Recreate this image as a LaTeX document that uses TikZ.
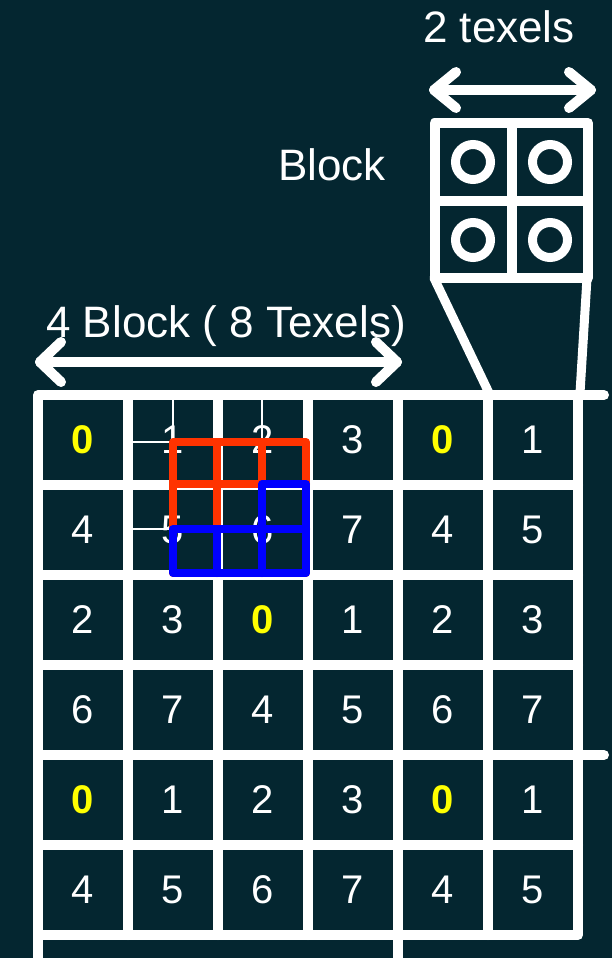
\documentclass[tikz,border=0pt]{standalone}
\usepackage{fontspec}
\setmainfont{Liberation Sans}
\definecolor{bg}{RGB}{4,38,48}
\definecolor{tred}{RGB}{255,51,0}
\definecolor{tblue}{RGB}{0,0,255}
\definecolor{tyellow}{RGB}{255,255,0}
\begin{document}
\begin{tikzpicture}[x=1pt,y=-1pt,
  wline/.style={draw=white,line width=10pt,line cap=round,line join=round},
  tline/.style={draw=white,line width=1.6pt},
  redline/.style={draw=tred,line width=8pt,line cap=round,line join=round},
  blueline/.style={draw=tblue,line width=8pt,line cap=round,line join=round},
  digit/.style={text=white,font=\fontsize{40}{44}\selectfont,inner sep=0pt},
  zero/.style={text=tyellow,font=\fontsize{40}{44}\selectfont\bfseries,inner sep=0pt},
  headtext/.style={text=white,font=\fontsize{44}{50}\selectfont,inner sep=0pt,anchor=base}]
\useasboundingbox (0,0) rectangle (612,958);
\fill[bg] (0,0) rectangle (612,958);
\begin{scope}
\clip (0,0) rectangle (612,958);
% grid
\draw[wline] (38,965) -- (38,395) -- (604,395);
\draw[wline] (398,395) -- (398,965);
\draw[wline] (578,395) -- (578,935) -- (38,935);
\foreach \yy in {485,575,665,845} \draw[wline] (38,\yy) -- (578,\yy);
\draw[wline] (38,755) -- (604,755);
\foreach \xx in {128,218,308,488} \draw[wline] (\xx,395) -- (\xx,935);
\end{scope}
% thin texel-centre lines
\foreach \xx in {173,262} \draw[tline] (\xx,400) -- (\xx,573);
\foreach \yy in {442,529} \draw[tline] (133,\yy) -- (306,\yy);
% digits
\foreach \row [count=\r from 0] in {{0,1,2,3,0,1},{4,5,6,7,4,5},{2,3,0,1,2,3},{6,7,4,5,6,7},{0,1,2,3,0,1},{4,5,6,7,4,5}} {
  \foreach \v [count=\c from 0] in \row {
    \ifnum\v=0
      \node[zero] (d\r\c) at ({83+90*\c},{440+90*\r}) {0};
    \else
      \node[digit] (d\r\c) at ({83+90*\c},{440+90*\r}) {\v};
    \fi
  }
}
% red footprint
\draw[redline] (173,442) rectangle (306,573);
\foreach \xx in {217,262} \draw[redline] (\xx,442) -- (\xx,573);
\foreach \yy in {484,529} \draw[redline] (173,\yy) -- (306,\yy);
% blue footprint
\draw[blueline] (173,529) -- (262,529) -- (262,484) -- (306,484) -- (306,573) -- (173,573) -- cycle;
\draw[blueline] (217,529) -- (217,573);
\draw[blueline] (262,529) -- (262,573);
\draw[blueline] (262,529) -- (306,529);
% block
\draw[wline,line cap=butt] (434.5,123) rectangle (588,278);
\draw[wline,line cap=butt] (512,123) -- (512,278);
\draw[wline,line cap=butt] (434.5,200.5) -- (588,200.5);
\foreach \cx/\cy in {473/162,550/162,473/240,550/240}
  \draw[white,line width=9pt] (\cx,\cy) circle[radius=17.5pt];
\coordinate (blkL) at (434,278);
\coordinate (blkR) at (587,278);
\coordinate (grdL) at (489,393);
\coordinate (grdR) at (580,393);
\draw[wline,line width=9pt] (blkL) -- (grdL);
\draw[wline,line width=9pt] (blkR) -- (grdR);
% arrows
\coordinate (a1) at (434,90);
\coordinate (a2) at (591,90);
\draw[wline] (a1) -- (a2);
\draw[wline] (456,72) -- (a1) -- (456,108);
\draw[wline] (569,72) -- (a2) -- (569,108);
\coordinate (b1) at (40,362);
\coordinate (b2) at (397,362);
\draw[wline] (b1) -- (b2);
\draw[wline] (61,342) -- (b1) -- (61,382);
\draw[wline] (376,342) -- (b2) -- (376,382);
% labels
\node[headtext] (t2) at (499,43) {2 texels};
\node[headtext] (tb) at (332,180) {Block};
\node[headtext] (t4) at (226,337) {4 Block ( 8 Texels)};
\end{tikzpicture}
\end{document}
